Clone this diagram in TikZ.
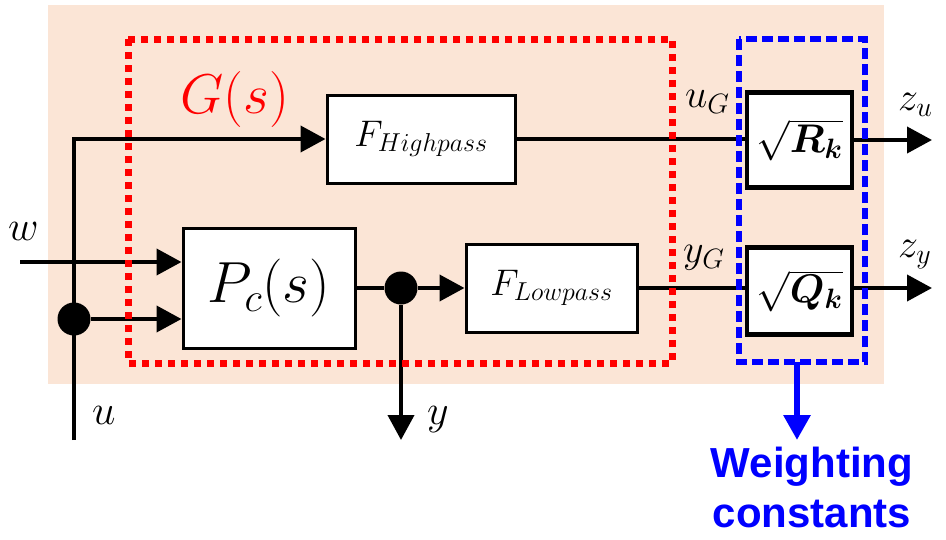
\RequirePackage{fix-cm}
\documentclass[tikz,border=0pt]{standalone}
\usepackage{fontspec}
\usepackage{bm}
\usetikzlibrary{arrows.meta}
\newfontfamily\wfont{Liberation Sans}
\definecolor{peach}{HTML}{FBE5D6}
\begin{document}
\begin{tikzpicture}[x=1pt,y=-1pt,
  blk/.style={draw=black, line width=3pt, fill=white, inner sep=0pt},
  wblk/.style={draw=black, line width=4.5pt, fill=white, inner sep=0pt, font=\fontsize{40}{44}\selectfont},
  wire/.style={line width=4pt, draw=black},
  arr/.style={wire, -{Triangle[length=25pt,width=26pt]}},
  jdot/.style={circle, fill=black, inner sep=0pt, minimum size=33pt},
  lbl/.style={anchor=base west, inner sep=0pt, font=\fontsize{40}{44}\selectfont},
  big/.style={anchor=base west, inner sep=0pt, font=\fontsize{42}{46}\selectfont},
  wtxt/.style={anchor=base, inner sep=0pt, text=blue, font=\wfont\bfseries\fontsize{42}{48}\selectfont},
]
\useasboundingbox (0,0) rectangle (946,539);
\fill[peach] (48,5) rectangle (884,384);

% blocks
\node[blk, minimum width=188pt, minimum height=88pt, font=\fontsize{37}{40}\selectfont] (fh) at (421,139) {$F_{Highpass}$};
\node[blk, minimum width=172pt, minimum height=120pt, font=\fontsize{58}{62}\selectfont] (pc) at (269,288) {$P_c(s)$};
\node[blk, minimum width=171pt, minimum height=88pt, font=\fontsize{37}{40}\selectfont] (fl) at (551.5,288) {$F_{Lowpass}$};
\node[wblk, minimum width=105pt, minimum height=95pt] (rk) at (799.5,140) {$\sqrt{\bm{R}_{\bm{k}}}$};
\node[wblk, minimum width=105pt, minimum height=87pt] (qk) at (799.5,291) {$\sqrt{\bm{Q}_{\bm{k}}}$};

% connectors
\coordinate (ubot) at (74,440);
\coordinate (win) at (20,262);
\coordinate (yout) at (401,440);
\coordinate (zu) at (932,140);
\coordinate (zy) at (932,288);
\draw[arr] (ubot) |- (fh.west);
\draw[arr] (win) -- (win -| pc.west);
\node[jdot] (j1) at (74,319) {};
\draw[arr] (j1) -- (j1 -| pc.west);
\node[jdot] (j2) at (401,288) {};
\draw[wire] (pc.east) -- (j2);
\draw[arr] (j2) -- (fl.west);
\draw[arr] (j2) -- (yout);
\draw[wire] (fh.east) -- (fh.east -| rk.west);
\draw[wire] (fl.east) -- (fl.east -| qk.west);
\draw[arr] (zu -| rk.east) -- (zu);
\draw[arr] (zy -| qk.east) -- (zy);

% groups
\draw[red, line width=7pt, dash pattern=on 7pt off 6pt] (128,39) rectangle (672,363);
\draw[blue, line width=6pt, dash pattern=on 11pt off 5pt] (739,39) rectangle (865,362);
\coordinate (bbot) at (797,362);
\coordinate (btip) at (797,440);
\draw[blue, line width=6pt, -{Triangle[length=25pt,width=26pt]}] (bbot) -- (btip);

% labels
\node[anchor=base west, inner sep=0pt, text=red, font=\fontsize{56}{60}\selectfont] (gs) at (180,113) {$G(s)$};
\node[lbl] (ug) at (685,107) {$u_G$};
\node[lbl] (yg) at (683,262) {$y_G$};
\node[lbl] (zul) at (898,110) {$z_u$};
\node[lbl] (zyl) at (898,257) {$z_y$};
\node[big] (wl) at (8,240) {$w$};
\node[big] (ul) at (92,424) {$u$};
\node[big] (yl) at (427,424) {$y$};
\node[wtxt] (wt1) at (812,477) {Weighting};
\node[wtxt] (wt2) at (812,527) {constants};
\end{tikzpicture}
\end{document}
